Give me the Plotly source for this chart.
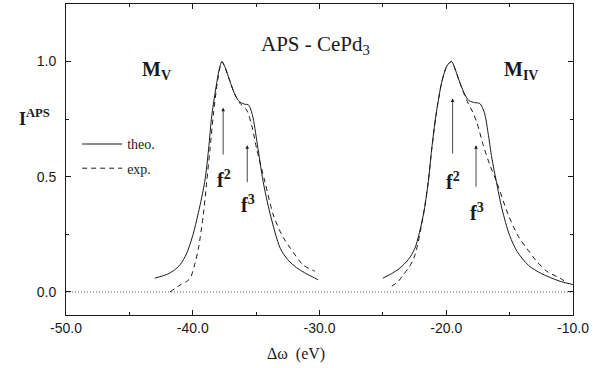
import plotly.graph_objects as go

# ---------------- data ----------------
mv_theo_x = [-43.0, -42.0, -41.5, -41.0, -40.5, -40.0, -39.55, -39.05, -38.75, -38.5, -38.1, -37.9, -37.7,
             -37.45, -37.1, -36.7, -36.3, -35.9, -35.6, -35.3, -34.9, -34.45, -33.9, -33.1, -32.5, -31.8, -31.0, -30.1]
mv_theo_y = [0.060, 0.077, 0.093, 0.118, 0.165, 0.245, 0.345, 0.48, 0.62, 0.765, 0.91, 0.97, 1.00,
             0.975, 0.92, 0.86, 0.825, 0.815, 0.812, 0.77, 0.64, 0.48, 0.34, 0.19, 0.14, 0.105, 0.078, 0.053]

mv_exp_x = [-41.8, -41.0, -40.5, -40.2, -39.85, -39.55, -39.17, -38.9, -38.64, -38.38, -38.06, -37.85, -37.7,
            -37.45, -37.1, -36.7, -36.3, -35.75, -35.35, -34.95, -34.3, -33.64, -32.9, -32.3, -31.3, -30.36]
mv_exp_y = [0.0, 0.03, 0.045, 0.06, 0.118, 0.19, 0.334, 0.477, 0.62, 0.767, 0.91, 0.975, 1.00,
            0.975, 0.92, 0.86, 0.82, 0.79, 0.724, 0.62, 0.477, 0.334, 0.24, 0.19, 0.118, 0.09]

miv_theo_x = [-25.0, -24.3, -23.65, -23.0, -22.47, -21.81, -21.42, -21.15, -20.81, -20.36, -20.0, -19.75, -19.57,
              -19.35, -19.0, -18.6, -18.2, -17.75, -17.35, -17.0, -16.7, -16.4, -16.05, -15.6, -15.0, -14.4,
              -13.5, -12.5, -11.0, -10.0]
miv_theo_y = [0.060, 0.080, 0.104, 0.14, 0.19, 0.334, 0.477, 0.62, 0.767, 0.91, 0.975, 0.995, 1.00,
              0.975, 0.92, 0.865, 0.83, 0.822, 0.818, 0.78, 0.69, 0.58, 0.48, 0.36, 0.245, 0.175,
              0.115, 0.08, 0.046, 0.032]

miv_exp_x = [-24.3, -23.8, -23.39, -22.9, -22.47, -21.85, -21.45, -21.15, -20.81, -20.36, -20.0, -19.75, -19.57,
             -19.35, -19.0, -18.6, -18.2, -17.99, -17.6, -17.08, -16.55, -16.02, -15.1, -14.3, -13.66, -12.9,
             -12.08, -11.03, -10.6]
miv_exp_y = [0.025, 0.045, 0.075, 0.11, 0.16, 0.32, 0.465, 0.615, 0.767, 0.91, 0.975, 0.995, 1.00,
             0.975, 0.92, 0.86, 0.81, 0.79, 0.738, 0.637, 0.55, 0.477, 0.334, 0.24, 0.19, 0.135,
             0.09, 0.06, 0.045]

zero_x = [-50.0, -10.0]
zero_y = [0.0, 0.0]

# arrows: x position, head y, tail y
arrow_x = [-37.6, -35.7, -19.5, -17.65]
arrow_head = [0.80, 0.637, 0.84, 0.637]
arrow_tail = [0.59, 0.47, 0.594, 0.45]
arrow_labels = ["f", "f", "f", "f"]
arrow_sups = ["2", "3", "2", "3"]
label_x = [-37.55, -35.65, -19.45, -17.6]
label_y = [0.49, 0.38, 0.48, 0.345]

x_tickvals = [-50.0, -40.0, -30.0, -20.0, -10.0]
x_ticktext = ["-50.0", "-40.0", "-30.0", "-20.0", "-10.0"]
y_tickvals = [0.0, 0.5, 1.0]
y_ticktext = ["0.0", "0.5", "1.0"]

INK = "#1a1a1a"
SERIF = "Liberation Serif, Times New Roman, serif"
SANS = "Liberation Sans, Arial, sans-serif"

fig = go.Figure()

fig.add_trace(go.Scatter(x=zero_x, y=zero_y, mode="lines", showlegend=False,
                         line=dict(color="#555", width=1, dash="1px,2px"), hoverinfo="skip"))

fig.add_trace(go.Scatter(x=mv_theo_x, y=mv_theo_y, mode="lines", name="theo.", legendgroup="t",
                         line=dict(color=INK, width=1, shape="spline", smoothing=0.8)))
fig.add_trace(go.Scatter(x=miv_theo_x, y=miv_theo_y, mode="lines", name="theo.", legendgroup="t",
                         showlegend=False, line=dict(color=INK, width=1, shape="spline", smoothing=0.8)))
fig.add_trace(go.Scatter(x=mv_exp_x, y=mv_exp_y, mode="lines", name="exp.", legendgroup="e",
                         line=dict(color=INK, width=1, dash="5px,4px", shape="spline", smoothing=0.8)))
fig.add_trace(go.Scatter(x=miv_exp_x, y=miv_exp_y, mode="lines", name="exp.", legendgroup="e",
                         showlegend=False,
                         line=dict(color=INK, width=1, dash="5px,4px", shape="spline", smoothing=0.8)))

annotations = []
for xa, yh, yt in zip(arrow_x, arrow_head, arrow_tail):
    annotations.append(dict(x=xa, y=yh, ax=xa, ay=yt, xref="x", yref="y", axref="x", ayref="y",
                            text="", showarrow=True, arrowhead=2, arrowsize=0.9, arrowwidth=0.8,
                            arrowcolor=INK))
for lx, ly, t, s in zip(label_x, label_y, arrow_labels, arrow_sups):
    annotations.append(dict(x=lx, y=ly, xref="x", yref="y", showarrow=False,
                            text=f"<b>{t}</b><sup><b>{s}</b></sup>",
                            font=dict(family=SERIF, size=20, color=INK)))

annotations += [
    dict(x=-34.8, y=1.07, xref="x", yref="y", xanchor="left", showarrow=False,
         text="APS - CePd<sub>3</sub>", font=dict(family=SERIF, size=21, color=INK)),
    dict(x=-44.2, y=0.96, xref="x", yref="y", xanchor="left", showarrow=False,
         text="<b>M</b><sub><b>V</b></sub>", font=dict(family=SERIF, size=20, color=INK)),
    dict(x=-15.6, y=0.96, xref="x", yref="y", xanchor="left", showarrow=False,
         text="<b>M</b><sub><b>IV</b></sub>", font=dict(family=SERIF, size=20, color=INK)),
    dict(x=-0.097, y=0.635, xref="paper", yref="paper", xanchor="left", showarrow=False,
         text="<b>I</b><sup><b>APS</b></sup>", font=dict(family=SERIF, size=18, color=INK)),
    dict(x=0.454, y=-0.16, xref="paper", yref="paper", showarrow=False,
         text="Δω  (eV)", font=dict(family=SERIF, size=16, color=INK)),
]

fig.update_layout(
    width=610, height=368,
    margin=dict(l=66, r=37, t=4, b=53),
    paper_bgcolor="white", plot_bgcolor="white",
    annotations=annotations,
    legend=dict(x=0.022, y=0.6, xanchor="left", yanchor="top", bgcolor="rgba(0,0,0,0)",
                font=dict(family=SERIF, size=14, color=INK), tracegroupgap=3,
                itemwidth=40, traceorder="grouped"),
    xaxis=dict(range=[-50, -10], tickvals=x_tickvals, ticktext=x_ticktext, ticks="inside",
               ticklen=5, tickwidth=1, tickcolor=INK, showline=True, linecolor=INK, linewidth=1,
               mirror="ticks", showgrid=False, zeroline=False,
               minor=dict(dtick=5, ticks="inside", ticklen=3, tickcolor=INK, showgrid=False),
               tickfont=dict(family=SANS, size=14, color=INK)),
    yaxis=dict(range=[-0.1, 1.25], tickvals=y_tickvals, ticktext=y_ticktext, ticks="inside",
               ticklen=5, tickwidth=1, tickcolor=INK, showline=True, linecolor=INK, linewidth=1,
               mirror="ticks", showgrid=False, zeroline=False, ticklabelstandoff=6,
               minor=dict(tickvals=[0.25, 0.75], ticks="inside", ticklen=3, tickcolor=INK, showgrid=False),
               tickfont=dict(family=SANS, size=14, color=INK)),
)

fig.write_html("out.html")
